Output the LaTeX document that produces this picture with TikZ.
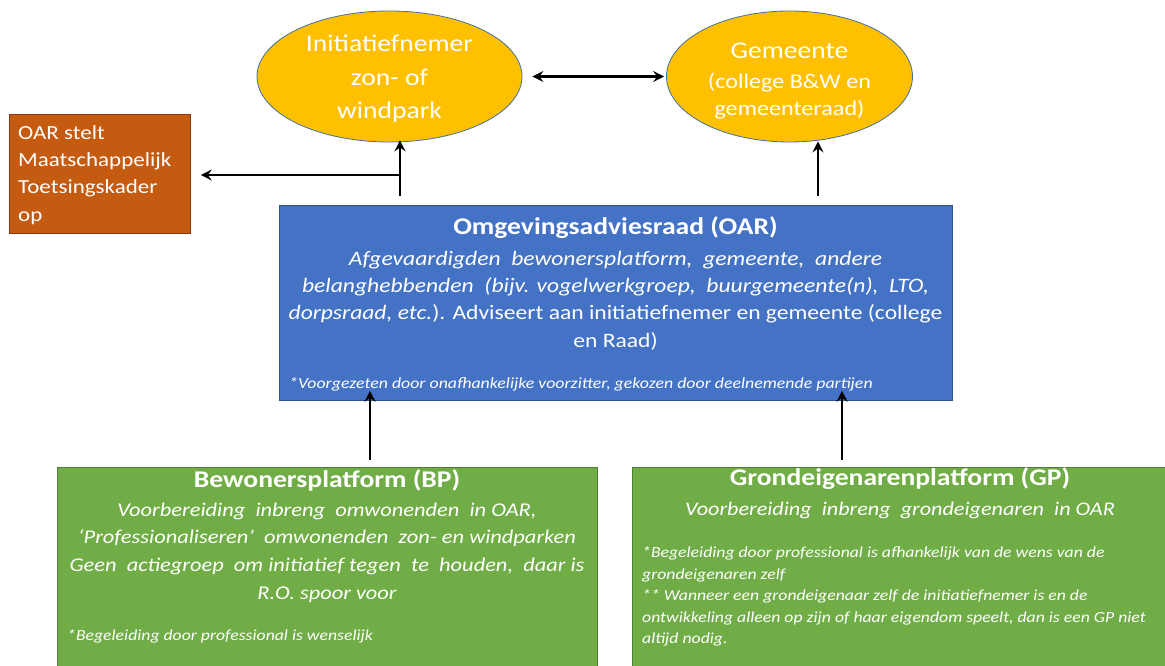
\documentclass[tikz,border=0pt]{standalone}
\usepackage{fontspec}
\setmainfont{Carlito}[FakeStretch=1.15]
\usetikzlibrary{shapes.geometric,arrows.meta}
\definecolor{ygold}{HTML}{FFC000}
\definecolor{oline}{HTML}{41719C}
\definecolor{oarblue}{HTML}{4472C4}
\definecolor{oarline}{HTML}{2F528F}
\definecolor{pgreen}{HTML}{70AD47}
\definecolor{gline}{HTML}{507E32}
\definecolor{brown}{HTML}{C55A11}
\definecolor{bline}{HTML}{843C0C}
\newcommand{\fs}[2]{\fontsize{#1}{#2}\selectfont}
\tikzset{
  oval/.style={ellipse, fill=ygold, draw=oline, line width=0.8pt, text=white, align=center, inner sep=0pt},
  box/.style={draw, line width=0.8pt, anchor=north west, inner sep=0pt},
  tip/.tip={Stealth[length=11pt,width=11pt,inset=4pt]},
  arr/.style={line width=2.2pt, -tip},
  darr/.style={line width=2.2pt, tip-tip},
  wtxt/.style={text=white, align=center, inner sep=0pt},
  ttl/.style={wtxt, font=\fs{24}{28}\bfseries},
}
\begin{document}
\begin{tikzpicture}[x=1pt,y=-1pt]
\useasboundingbox (0,0) rectangle (1165,666);
% ellipses
\node[oval, minimum width=265pt, minimum height=131pt] (init) at (389.5,76.5) {};
\node[wtxt, font=\fs{24}{33.5}] (inittxt) at (389.5,79) {Initiatiefnemer\\ zon- of\\ windpark};
\node[oval, minimum width=246pt, minimum height=131pt] (gem) at (789.5,76.5) {};
\node[wtxt, font=\fs{21}{27}] (gemtxt) at (789.5,81.5)
  {{\fs{24}{28}Gemeente}\\[3pt] (college B\&W en\\ gemeenteraad)};
% orange box
\node[box, fill=brown, draw=bline, minimum width=181pt, minimum height=119pt] (kader) at (9,114) {};
\node[text=white, align=left, inner sep=0pt, anchor=west, font=\fs{20}{27.3}] (kadertxt) at (18,175)
  {OAR stelt\\ Maatschappelijk\\ Toetsingskader\\ op};
% OAR box
\node[box, fill=oarblue, draw=oarline, minimum width=673pt, minimum height=195pt] (oar) at (279,205) {};
\node[ttl] (oartitle) at (615.5,228) {Omgevingsadviesraad (OAR)};
\node[wtxt, font=\fs{20.5}{27.3}\itshape] (oarbody) at (615.5,300.5)
  {Afgevaardigden\ \ bewonersplatform,\ \ gemeente,\ \ andere\\
   belanghebbenden\ \ (bijv. vogelwerkgroep,\ \ buurgemeente(n),\ \ LTO,\\
   dorpsraad,\ etc.{\upshape). Adviseert aan initiatiefnemer en gemeente (college}\\
   \upshape en Raad)};
\node[wtxt, anchor=west, font=\fs{15.5}{17}\itshape] (oarfoot) at (289,384) {*Voorgezeten door onafhankelijke voorzitter, gekozen door deelnemende partijen};
% BP box
\node[box, fill=pgreen, draw=gline, minimum width=540pt, minimum height=210pt] (bp) at (57,467) {};
\node[ttl] (bptitle) at (327,480) {Bewonersplatform (BP)};
\node[wtxt, font=\fs{19.5}{27.7}\itshape] (bpbody) at (327,552.5)
  {Voorbereiding\ \ inbreng\ \ omwonenden\ \ in OAR,\\
   `Professionaliseren'\ \ omwonenden\ \ zon- en windparken\\
   Geen\ \ actiegroep\ \ om initiatief tegen\ \ te\ \ houden,\ \ daar is\\
   R.O. spoor voor};
\node[wtxt, anchor=west, font=\fs{15.4}{17}\itshape] (bpfoot) at (67,636) {*Begeleiding door professional is wenselijk};
% GP box
\node[box, fill=pgreen, draw=gline, minimum width=540pt, minimum height=210pt] (gp) at (632,467) {};
\node[ttl] (gptitle) at (900,479) {Grondeigenarenplatform (GP)};
\node[wtxt, font=\fs{19.3}{26}\itshape] (gpbody) at (900,510) {Voorbereiding\ \ inbreng\ \ grondeigenaren\ \ in OAR};
\node[text=white, align=left, inner sep=0pt, anchor=west, font=\fs{15.4}{21.5}\itshape] (gpfoot) at (642,596.5)
  {*Begeleiding door professional is afhankelijk van de wens van de\\
   grondeigenaren zelf\\
   ** Wanneer een grondeigenaar zelf de initiatiefnemer is en de\\
   ontwikkeling alleen op zijn of haar eigendom speelt, dan is een GP niet\\
   altijd nodig.};
% connectors
\coordinate (j1) at (400,196);
\coordinate (j2) at (400,175);
\coordinate (oarj) at (818,196);
\coordinate (bpj) at (370,460);
\coordinate (gpj) at (842,460);
\draw[line width=2.2pt] (j1) -- (j2);
\draw[arr] (j2) -- ([yshift=2pt]j2 |- init.south);
\draw[arr] (j2) -- ([xshift=10pt]kader.east |- j2);
\draw[arr] (oarj) -- ([yshift=1pt]oarj |- gem.south);
\draw[darr] ([xshift=10pt]init.east) -- ([xshift=-2pt]gem.west);
\draw[arr] (bpj) -- ([yshift=10pt]bpj |- oar.south);
\draw[arr] (gpj) -- ([yshift=10pt]gpj |- oar.south);
\end{tikzpicture}
\end{document}
